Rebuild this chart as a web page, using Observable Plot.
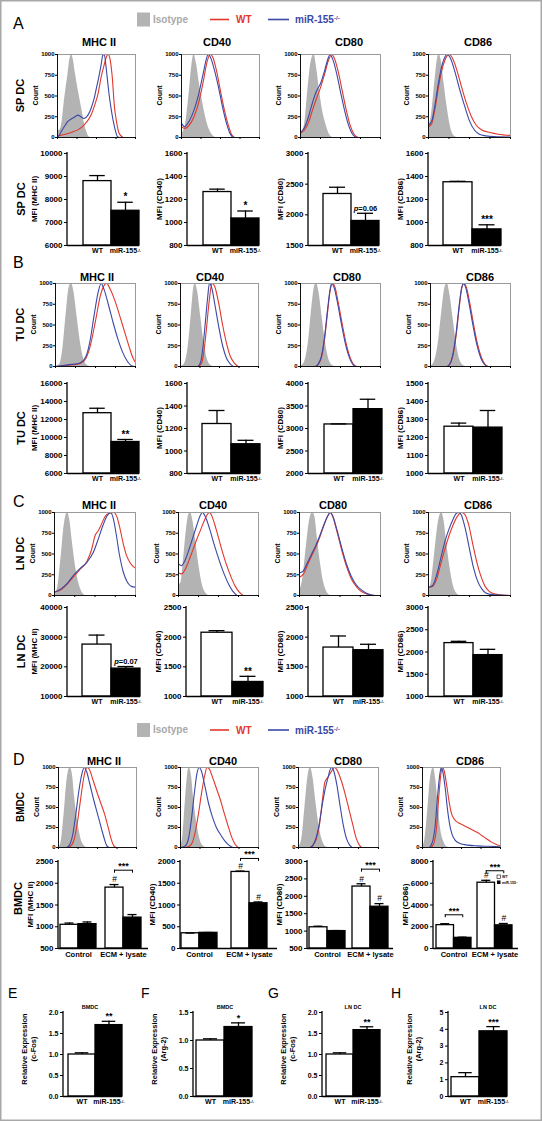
<!DOCTYPE html>
<html><head><meta charset="utf-8">
<script src="https://cdn.jsdelivr.net/npm/d3@7"></script>
<script src="https://cdn.jsdelivr.net/npm/@observablehq/plot@0.6"></script>
<style>
body{margin:0;background:#fff;}
#fig{position:relative;width:542px;height:1121px;background:#fff;overflow:hidden;}
</style></head><body><div id="fig"></div>
<script>
// ---------------- DATA ----------------
const markers = ["MHC II", "CD40", "CD80", "CD86"];
const KO = "miR-155-/-";
const genotypes = ["WT", KO];
const rowNames = ["SP DC", "TU DC", "LN DC", "BMDC"];
const countTicks = [0, 250, 500, 750, 1000];
const histDomain = [0, 100];
const histTicks = [0, 25, 50, 75, 100];

// histogram curves: [fluorescence position (% of axis), count]
// Row A (SP DC)
const hA1i = [[0,80],[3,90],[6,200],[8,370],[11,600],[13,730],[16,950],[18,1000],[20,950],[23,770],[26,600],[29,450],[32,300],[34,190],[37,80],[39,30],[42,0]];
const hA1w = [[0,20],[10,40],[20,70],[26,92],[34,150],[43,270],[48,400],[52,530],[56,730],[60,880],[63,980],[65,1000],[67,960],[70,750],[73,370],[76,170],[79,50],[84,0]];
const hA1k = [[0,0],[3,40],[6,90],[10,150],[13,190],[17,220],[21,240],[26,270],[30,250],[34,230],[39,270],[43,350],[47,470],[50,600],[53,730],[56,880],[58,990],[60,1000],[62,870],[64,700],[66,530],[69,330],[73,130],[77,10],[80,0]];
const hA2i = [[0,40],[5,150],[10,550],[13,850],[16,1000],[19,900],[23,650],[28,380],[33,170],[38,50],[43,0]];
const hA2w = [[0,130],[4,110],[10,150],[16,250],[22,420],[28,680],[33,920],[37,1000],[40,970],[45,800],[50,560],[55,330],[60,150],[64,40],[68,0]];
const hA2k = [[0,170],[4,130],[10,200],[16,330],[22,520],[28,780],[32,950],[34,1000],[37,970],[42,820],[48,580],[53,350],[58,160],[62,50],[66,0]];
const hA3i = [[0,30],[5,150],[9,550],[13,900],[17,1000],[20,850],[24,550],[28,300],[32,150],[36,40],[40,0]];
const hA3w = [[0,50],[5,90],[10,180],[15,330],[20,470],[25,600],[30,760],[35,930],[39,1000],[42,960],[47,800],[52,570],[57,340],[62,150],[67,40],[72,0]];
const hA3k = [[0,60],[5,120],[10,250],[15,420],[20,560],[25,650],[30,800],[34,940],[37,1000],[40,950],[45,780],[50,550],[55,330],[60,150],[65,40],[70,0]];
const hA4i = [[0,100],[4,300],[8,700],[11,950],[13,1000],[16,900],[19,650],[23,350],[27,120],[31,20],[35,0]];
const hA4w = [[0,130],[4,170],[8,350],[12,600],[16,800],[20,930],[25,1000],[29,960],[34,830],[40,620],[46,420],[52,260],[58,150],[65,90],[75,60],[85,40],[100,25]];
const hA4k = [[0,150],[4,200],[8,400],[12,650],[16,850],[20,970],[23,1000],[27,950],[32,800],[38,580],[44,380],[50,200],[56,90],[62,40],[70,20],[80,10],[100,5]];
// Row B (TU DC)
const hB1i = [[0,0],[5,20],[9,200],[13,600],[17,950],[20,1000],[23,900],[27,600],[31,300],[35,100],[39,20],[43,0]];
const hB1w = [[0,0],[15,15],[30,35],[38,100],[43,230],[50,550],[56,850],[61,980],[64,1000],[68,940],[74,800],[80,620],[86,430],[92,240],[97,100],[100,50]];
const hB1k = [[0,0],[15,20],[30,40],[38,120],[43,300],[48,600],[53,880],[57,1000],[61,920],[66,750],[72,530],[78,330],[84,170],[90,60],[95,10],[100,0]];
const hB2i = [[0,0],[5,30],[10,250],[14,650],[17,950],[19,1000],[22,900],[26,600],[30,300],[34,100],[38,20],[42,0]];
const hB2w = [[0,0],[22,0],[27,40],[30,180],[33,430],[36,720],[39,950],[41,1000],[44,960],[49,760],[54,500],[59,280],[64,120],[69,40],[74,0]];
const hB2k = [[0,0],[22,0],[26,60],[29,250],[32,550],[35,850],[37,1000],[40,950],[44,750],[49,480],[54,250],[59,100],[64,30],[68,0]];
const hB3i = [[0,0],[5,50],[10,300],[14,700],[18,980],[20,1000],[23,900],[27,600],[31,300],[35,100],[39,20],[43,0]];
const hB3w = [[0,0],[18,0],[22,25],[26,100],[30,320],[34,670],[37,910],[40,1000],[43,960],[47,780],[52,520],[57,280],[62,110],[66,30],[70,0]];
const hB3k = [[0,0],[18,0],[22,30],[26,120],[30,350],[34,700],[37,930],[39,1000],[42,950],[46,780],[51,520],[56,280],[61,110],[65,30],[69,0]];
const hB4i = [[0,0],[5,60],[10,300],[14,650],[18,950],[21,1000],[24,880],[28,600],[32,300],[36,100],[40,20],[44,0]];
const hB4w = [[0,0],[20,0],[24,25],[28,130],[32,370],[36,720],[39,940],[42,1000],[45,950],[49,770],[54,500],[59,260],[64,100],[68,30],[72,0]];
const hB4k = [[0,0],[20,0],[24,30],[28,150],[32,400],[36,750],[39,950],[41,1000],[44,950],[48,770],[53,500],[58,260],[63,100],[67,30],[71,0]];
// Row C (LN DC)
const hC1i = [[0,0],[4,100],[8,450],[12,850],[16,1000],[19,900],[22,650],[26,350],[30,150],[34,40],[38,0]];
const hC1w = [[0,40],[8,70],[16,140],[24,230],[32,320],[40,410],[46,560],[50,720],[54,780],[58,860],[63,960],[68,990],[73,1000],[77,950],[81,800],[85,620],[89,480],[93,400],[97,350],[100,330]];
const hC1k = [[0,40],[8,80],[16,150],[24,250],[32,330],[40,400],[48,520],[54,680],[60,850],[65,960],[69,1000],[72,950],[76,750],[80,500],[85,280],[90,160],[95,110],[100,100]];
const hC2i = [[0,130],[3,150],[6,400],[10,800],[13,980],[15,1000],[18,900],[22,620],[26,330],[30,120],[34,30],[38,0]];
const hC2w = [[0,270],[4,260],[8,310],[13,420],[18,550],[23,680],[28,800],[33,920],[37,990],[39,1000],[42,950],[47,800],[53,590],[59,400],[65,240],[71,110],[76,40],[81,0]];
const hC2k = [[0,380],[4,360],[8,420],[13,550],[18,700],[23,850],[27,960],[30,1000],[34,940],[39,800],[45,600],[51,420],[57,260],[63,130],[68,50],[73,0]];
const hC3i = [[0,60],[4,200],[8,550],[12,880],[16,1000],[19,950],[22,700],[26,380],[30,150],[34,40],[38,0]];
const hC3w = [[0,220],[5,260],[10,370],[15,480],[20,580],[25,700],[30,840],[35,960],[38,1000],[41,950],[46,780],[52,550],[58,350],[64,200],[70,110],[76,50],[82,20],[88,5],[94,0]];
const hC3k = [[0,270],[5,300],[10,400],[15,500],[20,600],[25,720],[30,850],[35,960],[38,1000],[41,960],[46,800],[52,580],[58,380],[64,230],[70,130],[76,70],[82,30],[88,10],[94,0]];
const hC4i = [[0,30],[4,200],[8,550],[12,880],[16,1000],[19,900],[22,650],[26,350],[30,130],[34,30],[38,0]];
const hC4w = [[0,100],[5,110],[10,200],[15,380],[20,560],[25,720],[30,850],[35,950],[40,1000],[44,980],[49,850],[54,620],[59,400],[64,230],[69,110],[74,50],[80,20],[90,5],[100,0]];
const hC4k = [[0,100],[5,120],[10,250],[15,450],[20,650],[25,800],[30,920],[34,990],[37,1000],[40,970],[45,800],[50,560],[55,330],[60,170],[65,80],[70,30],[78,10],[100,0]];
// Row D (BMDC)
const hD1i = [[0,0],[3,50],[7,400],[11,850],[15,1000],[18,900],[21,600],[25,300],[29,100],[33,20],[36,0]];
const hD1w = [[0,0],[12,0],[16,20],[20,100],[24,300],[28,580],[32,850],[35,980],[37,1000],[40,970],[44,850],[49,700],[54,560],[59,420],[64,240],[68,90],[71,20],[74,0]];
const hD1k = [[0,0],[10,0],[14,30],[18,150],[22,400],[26,700],[30,920],[33,1000],[36,950],[40,800],[45,600],[50,420],[55,240],[59,100],[62,20],[65,0]];
const hD2i = [[0,0],[3,150],[6,550],[9,900],[11,1000],[14,900],[17,600],[21,300],[25,100],[29,20],[33,0]];
const hD2w = [[0,0],[10,10],[15,60],[19,200],[23,420],[27,680],[31,900],[34,1000],[37,980],[41,880],[46,740],[51,600],[56,430],[61,270],[66,120],[70,40],[74,0]];
const hD2k = [[0,0],[6,20],[10,100],[14,350],[18,700],[21,920],[24,1000],[27,950],[31,780],[36,550],[41,380],[46,250],[52,150],[57,80],[62,30],[67,0]];
const hD3i = [[0,0],[4,100],[8,500],[12,900],[15,1000],[18,880],[22,550],[26,250],[30,80],[34,10],[37,0]];
const hD3w = [[0,0],[14,0],[18,25],[22,100],[26,270],[30,600],[33,820],[37,880],[41,950],[45,1000],[48,970],[53,850],[58,680],[63,480],[68,280],[72,120],[76,30],[79,0]];
const hD3k = [[0,0],[14,0],[18,30],[22,120],[26,300],[30,550],[34,760],[37,880],[41,1000],[44,960],[48,780],[52,520],[56,280],[60,110],[64,30],[67,0]];
const hD4i = [[0,0],[3,100],[7,500],[10,850],[14,1000],[17,850],[20,550],[23,250],[27,80],[31,10],[34,0]];
const hD4w = [[0,0],[10,0],[14,40],[18,250],[21,650],[24,950],[26,1000],[28,950],[31,780],[34,580],[37,430],[41,350],[46,310],[52,280],[58,250],[64,220],[70,190],[76,150],[82,110],[88,70],[94,40],[100,20]];
const hD4k = [[0,0],[8,0],[12,50],[16,250],[19,600],[22,900],[24,1000],[26,950],[29,750],[32,480],[35,280],[38,160],[42,90],[48,50],[58,30],[70,20],[85,15],[100,10]];

// MFI bar values (mean, SEM) — WT then miR-155-/-
const spWT = [8800, 1265, 2340, 1350], spWTe = [240, 25, 110, 8];
const spKO = [7510, 1035, 1900, 940], spKOe = [370, 65, 125, 40];
const spSig = ["*", "*", "p=0.06", "***"];
const spTicks = [[6000,7000,8000,9000,10000],[800,1000,1200,1400,1600],[1500,2000,2500,3000],[800,1000,1200,1400,1600]];

const tuWT = [12700, 1240, 3090, 1260], tuWTe = [550, 120, 12, 20];
const tuKO = [9500, 1060, 3430, 1255], tuKOe = [280, 35, 220, 95];
const tuSig = ["**", "", "", ""];
const tuTicks = [[6000,8000,10000,12000,14000,16000],[800,1000,1200,1400,1600],[2000,2500,3000,3500,4000],[1000,1100,1200,1300,1400,1500]];

const lnWT = [27500, 2075, 1825, 2200], lnWTe = [3200, 35, 195, 40];
const lnKO = [19400, 1245, 1780, 1930], lnKOe = [700, 95, 100, 130];
const lnSig = ["p=0.07", "**", "", ""];
const lnTicks = [[10000,20000,30000,40000],[1000,1500,2000,2500],[1000,1500,2000,2500],[1000,1500,2000,2500,3000]];

// BMDC grouped bars: per marker [Control, ECM + lysate]
const bmGroups = ["Control", "ECM + lysate"];
const bmWT = [[1045,1900],[350,1760],[1110,2280],[2150,6050]];
const bmWTe = [[40,70],[5,20],[30,80],[130,220]];
const bmKO = [[1060,1210],[360,1040],[1000,1700],[980,2130]];
const bmKOe = [[50,70],[8,30],[15,90],[60,170]];
const bmHashWT = [[0,1],[0,1],[0,1],[0,1]];
const bmHashKO = [[0,0],[0,1],[0,1],[0,1]];
const bmBracket = [[null,2300],[null,2070],[null,2780],[3100,7150]];
const bmTicks = [[500,1000,1500,2000,2500],[0,500,1000,1500,2000],[500,1000,1500,2000,2500,3000],[0,2000,4000,6000,8000]];

// Relative expression (E–H)
const expTitles = ["BMDC", "BMDC", "LN DC", "LN DC"];
const expGenes = ["(c-Fos)", "(Arg-2)", "(c-Fos)", "(Arg-2)"];
const expLetters = ["E", "F", "G", "H"];
const expWT = [1.0, 1.0, 1.0, 1.15], expWTe = [0.04, 0.03, 0.04, 0.27];
const expKO = [1.70, 1.24, 1.58, 3.88], expKOe = [0.09, 0.075, 0.08, 0.28];
const expSig = ["**", "*", "**", "***"];
const expTicks = [[0,0.5,1,1.5,2],[0,0.5,1,1.5],[0,0.5,1,1.5,2],[0,1,2,3,4,5]];

// ---------------- STYLE / LAYOUT ----------------
const FONT = '"Liberation Sans", Arial, Helvetica, sans-serif';
const RED = "#e2372c", BLUE = "#3a48a6", ISO = "#b3b3b3";
const fig = document.getElementById("fig");
const STYLE = (s) => ({background: "transparent", fontFamily: FONT, fontWeight: "bold", fontSize: s + "px", color: "black", overflow: "visible"});

const histLayout = [
  {y0: 54, y1: 137, xs: [[57,135],[181,259],[300,380],[428,510]]},
  {y0: 283, y1: 366, xs: [[55,135],[180,258],[300,380],[430,510]]},
  {y0: 512, y1: 595, xs: [[54,135],[178,258],[299,380],[428,510]]},
  {y0: 767, y1: 847, xs: [[58,136],[180,258],[298,378],[422,500]]}
];
const titleLayout = [
  {y: 46, xs: [99,217,349,478]},
  {y: 281, xs: [97,210,347,480]},
  {y: 509, xs: [99,213,333,478]},
  {y: 765, xs: [104,223,348,470]}
];
const barLayout = [
  {y0: 153, y1: 245, axis: [67,187,308,428], right: [139,259,379,501]},
  {y0: 383, y1: 473, axis: [67,187,308,428], right: [139,260,382,502]},
  {y0: 607, y1: 696, axis: [67,186,308,428], right: [140,263,383,502]}
];
const dLayout = {y0: 861, y1: 948, cols: [
  {axis: 58, right: 148, c1: 78, c2: 123, bw: 18},
  {axis: 180, right: 277, c1: 199, c2: 249, bw: 18},
  {axis: 307, right: 393, c1: 327, c2: 370, bw: 18},
  {axis: 433, right: 518, c1: 453, c2: 494, bw: 17.5}
]};
const eLayout = {y0: 1012, y1: 1096, axis: [63,193,322,448], right: [122,252,380,507], gap: [4,3,3,2]};

function place(svg, left, top) {
  svg.style.position = "absolute";
  svg.style.left = left + "px";
  svg.style.top = top + "px";
  svg.style.overflow = "visible";
  svg.style.maxWidth = "none";
  fig.appendChild(svg);
}
function fixText(svg) {
  d3.select(svg).selectAll("text").each(function () {
    const t = d3.select(this);
    const s = this.textContent;
    if (s === KO) {
      t.text(null);
      t.append("tspan").text("miR-155");
      t.append("tspan").attr("dy", "-0.45em").attr("font-size", "0.62em").text("-/-");
    } else if (/^p=/.test(s)) {
      t.text(null);
      t.append("tspan").attr("font-style", "italic").text("p");
      t.append("tspan").text(s.slice(1));
    }
  });
}
function yLine(svg, p) {
  const r = p.scale("y").range;
  const x = p.scale("x").range[0];
  d3.select(svg).append("line").attr("x1", x).attr("x2", x).attr("y1", Math.min(...r) - 1).attr("y2", Math.max(...r))
    .attr("stroke", "black").attr("stroke-width", 1.3);
}

// ---------------- HISTOGRAMS ----------------
function hist(x0, x1, y0, y1, iso, wt, ko) {
  const mL = 20, mR = 3, mT = 4, mB = 5;
  const w = x1 - x0, h = y1 - y0;
  const acc = {x: d => d[0], y: d => d[1]};
  const p = Plot.plot({
    width: w + mL + mR, height: h + mT + mB,
    marginLeft: mL, marginRight: mR, marginTop: mT, marginBottom: mB,
    x: {domain: histDomain},
    y: {domain: [0, 1000]},
    style: STYLE(6),
    marks: [
      Plot.areaY(iso, {...acc, fill: ISO, curve: "monotone-x", clip: true}),
      Plot.lineY(wt, {...acc, stroke: RED, strokeWidth: 1.1, curve: "monotone-x", clip: true}),
      Plot.lineY(ko, {...acc, stroke: BLUE, strokeWidth: 1.1, curve: "monotone-x", clip: true}),
      Plot.frame({stroke: "#9a9a9a", strokeWidth: 1}),
      Plot.ruleX([histDomain[0]], {stroke: "#111", strokeWidth: 1}),
      Plot.ruleY([0], {stroke: "#111", strokeWidth: 1}),
      Plot.axisY(countTicks, {tickSize: 2, tickPadding: 1, label: null, fontSize: 6, tickFormat: d3.format("d")}),
      Plot.axisX(histTicks, {tickSize: 2, tickFormat: () => "", label: null})
    ]
  });
  place(p, x0 - mL, y0 - mT);
}
const histCurves = [
  [[hA1i,hA1w,hA1k],[hA2i,hA2w,hA2k],[hA3i,hA3w,hA3k],[hA4i,hA4w,hA4k]],
  [[hB1i,hB1w,hB1k],[hB2i,hB2w,hB2k],[hB3i,hB3w,hB3k],[hB4i,hB4w,hB4k]],
  [[hC1i,hC1w,hC1k],[hC2i,hC2w,hC2k],[hC3i,hC3w,hC3k],[hC4i,hC4w,hC4k]],
  [[hD1i,hD1w,hD1k],[hD2i,hD2w,hD2k],[hD3i,hD3w,hD3k],[hD4i,hD4w,hD4k]]
];
histLayout.forEach((L, r) => L.xs.forEach((xs, c) => {
  const [i, w, k] = histCurves[r][c];
  hist(xs[0], xs[1], L.y0, L.y1, i, w, k);
}));

// ---------------- TWO-BAR CHARTS ----------------
function bars2(o) {
  const mL = 32, mR = 6, mT = 16, mB = 16;
  const w = o.right - o.axis, h = o.y1 - o.y0;
  const bw = (w - o.gap) / 2;
  const dom = [o.ticks[0], o.ticks[o.ticks.length - 1]];
  const rows = [
    {g: "WT", v: o.wt, e: o.wte, s: ""},
    {g: KO, v: o.ko, e: o.koe, s: o.sig}
  ];
  const p = Plot.plot({
    width: w + mL + mR, height: h + mT + mB,
    marginLeft: mL, marginRight: mR, marginTop: mT, marginBottom: mB,
    x: {domain: genotypes, paddingInner: 0, paddingOuter: o.gap / (w - o.gap), align: 1},
    y: {domain: dom},
    style: STYLE(o.tickFont),
    marks: [
      Plot.barY(rows.filter(d => d.g === "WT"), {x: "g", y1: dom[0], y2: "v", fill: "white", stroke: "black", strokeWidth: 1.3}),
      Plot.barY(rows.filter(d => d.g !== "WT"), {x: "g", y1: dom[0], y2: "v", fill: "black", stroke: "black", strokeWidth: 1.3}),
      Plot.ruleX(rows, {x: "g", y1: "v", y2: d => d.v + d.e, stroke: "black", strokeWidth: 1.3}),
      Plot.tickY(rows, {x: "g", y: d => d.v + d.e, inset: bw / 2 - o.cap, stroke: "black", strokeWidth: 1.3}),
      Plot.text(rows.filter(d => d.s), {x: "g", y: d => d.v + d.e, text: d => d.s, dy: -5, fontSize: d => d.s.startsWith("p") ? o.pFont : o.sigFont, fontWeight: "bold"}),
      Plot.ruleY([dom[0]], {stroke: "black", strokeWidth: 1.3}),
      Plot.axisY(o.ticks, {tickSize: 3, tickPadding: 2, label: null, fontSize: o.tickFont, tickFormat: o.fmt || d3.format("d")}),
      Plot.axisX({tickSize: 0, tickPadding: 3, label: null, fontSize: o.labelFont})
    ]
  });
  yLine(p, p);
  fixText(p);
  place(p, o.axis - mL, o.y0 - mT);
}
const barSets = [
  [spWT, spWTe, spKO, spKOe, spSig, spTicks],
  [tuWT, tuWTe, tuKO, tuKOe, tuSig, tuTicks],
  [lnWT, lnWTe, lnKO, lnKOe, lnSig, lnTicks]
];
barLayout.forEach((L, r) => {
  const [wt, wte, ko, koe, sig, ticks] = barSets[r];
  for (let c = 0; c < 4; c++) {
    bars2({axis: L.axis[c], right: L.right[c], y0: L.y0, y1: L.y1, gap: 15,
      wt: wt[c], wte: wte[c], ko: ko[c], koe: koe[c], sig: sig[c], ticks: ticks[c],
      tickFont: 8, labelFont: 7, sigFont: 10, pFont: 7.5, cap: 8});
  }
});

// ---------------- GROUPED BARS (BMDC) ----------------
function barsD(c) {
  const o = dLayout.cols[c];
  const mL = 30, mR = 6, mT = 26, mB = 16;
  const W = o.right - o.axis, H = dLayout.y1 - dLayout.y0;
  const s = o.c2 - o.c1, b = 2 * o.bw, bw = o.bw;
  const pi = 1 - b / s;
  const po = Math.max(0, (W / s - 2 + pi) / 2);
  const off = (o.c1 - bw) - o.axis;
  const left = W - s * (2 - pi);
  const align = left > 0 ? Math.min(1, Math.max(0, off / left)) : 0.5;
  const ticks = bmTicks[c];
  const dom = [ticks[0], ticks[ticks.length - 1]];
  const rows = bmGroups.map((g, j) => ({
    g, wt: bmWT[c][j], wte: bmWTe[c][j], ko: bmKO[c][j], koe: bmKOe[c][j],
    hw: bmHashWT[c][j], hk: bmHashKO[c][j], br: bmBracket[c][j]
  }));
  const brs = rows.filter(d => d.br != null);
  const cap = 4.5;
  const p = Plot.plot({
    width: W + mL + mR, height: H + mT + mB,
    marginLeft: mL, marginRight: mR, marginTop: mT, marginBottom: mB,
    x: {domain: bmGroups, paddingInner: pi, paddingOuter: po, align},
    y: {domain: dom},
    style: STYLE(8),
    marks: [
      Plot.barY(rows, {x: "g", y1: dom[0], y2: "wt", fill: "white", stroke: "black", strokeWidth: 1.3, insetRight: bw}),
      Plot.barY(rows, {x: "g", y1: dom[0], y2: "ko", fill: "black", stroke: "black", strokeWidth: 1.3, insetLeft: bw}),
      Plot.ruleX(rows, {x: "g", y1: "wt", y2: d => d.wt + d.wte, dx: -bw / 2, strokeWidth: 1.3}),
      Plot.ruleX(rows, {x: "g", y1: "ko", y2: d => d.ko + d.koe, dx: bw / 2, strokeWidth: 1.3}),
      Plot.tickY(rows, {x: "g", y: d => d.wt + d.wte, insetLeft: bw / 2 - cap, insetRight: 1.5 * bw - cap, strokeWidth: 1.3}),
      Plot.tickY(rows, {x: "g", y: d => d.ko + d.koe, insetLeft: 1.5 * bw - cap, insetRight: bw / 2 - cap, strokeWidth: 1.3}),
      Plot.text(rows.filter(d => d.hw), {x: "g", y: d => d.wt + d.wte, text: () => "#", dx: -bw / 2, dy: -5, fontSize: 8.5, fontWeight: "normal"}),
      Plot.text(rows.filter(d => d.hk), {x: "g", y: d => d.ko + d.koe, text: () => "#", dx: bw / 2, dy: -5, fontSize: 8.5, fontWeight: "normal"}),
      Plot.tickY(brs, {x: "g", y: "br", insetLeft: bw / 2, insetRight: bw / 2, strokeWidth: 1}),
      Plot.ruleX(brs, {x: "g", y1: "br", y2: "br", dx: -bw / 2, insetBottom: -3, strokeWidth: 1}),
      Plot.ruleX(brs, {x: "g", y1: "br", y2: "br", dx: bw / 2, insetBottom: -3, strokeWidth: 1}),
      Plot.text(brs, {x: "g", y: "br", text: () => "***", dy: -4, fontSize: 9}),
      Plot.ruleY([dom[0]], {strokeWidth: 1.3}),
      Plot.axisY(ticks, {tickSize: 3, tickPadding: 2, label: null, fontSize: 8, tickFormat: d3.format("d")}),
      Plot.axisX({tickSize: 0, tickPadding: 3, label: null, fontSize: 7.5})
    ]
  });
  yLine(p, p);
  place(p, o.axis - mL, dLayout.y0 - mT);
}
for (let c = 0; c < 4; c++) barsD(c);

// ---------------- RELATIVE EXPRESSION (E–H) ----------------
for (let c = 0; c < 4; c++) {
  bars2({axis: eLayout.axis[c], right: eLayout.right[c], y0: eLayout.y0, y1: eLayout.y1, gap: eLayout.gap[c],
    wt: expWT[c], wte: expWTe[c], ko: expKO[c], koe: expKOe[c], sig: expSig[c], ticks: expTicks[c],
    tickFont: 7, labelFont: 7, sigFont: 9, pFont: 7, cap: 7,
    fmt: c === 3 ? d3.format("d") : d3.format(".1f")});
}

// ---------------- TEXT OVERLAY ----------------
const ov = d3.select(fig).append("svg").attr("width", 542).attr("height", 1121)
  .style("position", "absolute").style("left", "0px").style("top", "0px")
  .attr("font-family", FONT).attr("font-weight", "bold");
ov.append("rect").attr("x", 0.75).attr("y", 0.75).attr("width", 540.5).attr("height", 1119.5)
  .attr("fill", "none").attr("stroke", "#a8a8a8").attr("stroke-width", 1.5);

function txt(x, y, s, size, opt = {}) {
  const t = ov.append("text").attr("x", x).attr("y", y).attr("font-size", size)
    .attr("text-anchor", opt.anchor || "middle").attr("fill", opt.fill || "#000")
    .attr("font-weight", opt.weight || "bold").text(s);
  if (opt.rot) t.attr("transform", `rotate(-90 ${x} ${y})`).attr("dominant-baseline", "central");
  return t;
}
function koText(x, y, size, fill) {
  const t = ov.append("text").attr("x", x).attr("y", y).attr("font-size", size).attr("fill", fill).attr("font-weight", "bold");
  t.append("tspan").text("miR-155");
  t.append("tspan").attr("dy", "-0.45em").attr("font-size", "0.62em").text("-/-");
}
function legend(cy) {
  ov.append("rect").attr("x", 137).attr("y", cy - 7).attr("width", 13).attr("height", 14).attr("fill", ISO);
  txt(153, cy + 3, "Isotype", 10, {anchor: "start", fill: "#a9a9a9"});
  ov.append("line").attr("x1", 210).attr("x2", 229).attr("y1", cy).attr("y2", cy).attr("stroke", RED).attr("stroke-width", 1.6);
  txt(236, cy + 3.5, "WT", 10, {anchor: "start", fill: RED});
  ov.append("line").attr("x1", 268).attr("x2", 289).attr("y1", cy).attr("y2", cy).attr("stroke", BLUE).attr("stroke-width", 1.6);
  koText(295, cy + 3.5, 10, BLUE);
}
legend(19.5);
legend(730);

const letters = [["A", 13, 29], ["B", 13, 268], ["C", 13, 507], ["D", 13, 765]];
letters.forEach(([s, x, y]) => txt(x, y, s, 16, {anchor: "start", weight: "normal"}));

titleLayout.forEach(L => L.xs.forEach((x, c) => txt(x, L.y, markers[c], 11)));

// row labels + axis titles
histLayout.forEach((L, r) => {
  const cy = (L.y0 + L.y1) / 2;
  txt(20, cy, rowNames[r], r === 3 ? 10 : 11, {rot: true});
  L.xs.forEach(xs => txt(xs[0] - 22, cy, "Count", 7, {rot: true}));
});
barLayout.forEach((L, r) => {
  const cy = (L.y0 + L.y1) / 2;
  txt(21, cy, rowNames[r], 11, {rot: true});
  L.axis.forEach((ax, c) => txt(ax - (c === 0 ? 33 : 28), cy, `MFI (${markers[c]})`, 8, {rot: true}));
});
{
  const cy = (dLayout.y0 + dLayout.y1) / 2;
  txt(18, cy - 6, rowNames[3], 11, {rot: true});
  dLayout.cols.forEach((o, c) => txt(o.axis - 28, cy, `MFI (${markers[c]})`, 8, {rot: true}));
  // mini legend in CD86 panel
  ov.append("rect").attr("x", 497).attr("y", 875).attr("width", 3.5).attr("height", 3.5).attr("fill", "white").attr("stroke", "black").attr("stroke-width", 0.6);
  ov.append("rect").attr("x", 497).attr("y", 880.5).attr("width", 3.5).attr("height", 3.5).attr("fill", "black");
  txt(502, 878.3, "WT", 3.6, {anchor: "start"});
  const t = ov.append("text").attr("x", 502).attr("y", 883.8).attr("font-size", 3.6).attr("font-weight", "bold");
  t.append("tspan").text("miR-155");
  t.append("tspan").attr("dy", "-0.45em").attr("font-size", "0.62em").text("-/-");
}
// E–H
const eLetterX = [8, 141, 268, 391];
const eTitleX = [90, 225, 353, 488];
for (let c = 0; c < 4; c++) {
  txt(eLetterX[c], 998, expLetters[c], 14, {anchor: "start", weight: "normal"});
  txt(eTitleX[c], 1008.5, expTitles[c], 5.5);
  const ax = eLayout.axis[c];
  txt(ax - 39, 1049, "Relative Expression", 7.5, {rot: true});
  txt(ax - 30, 1049, expGenes[c], 7.5, {rot: true});
}
</script></body></html>
